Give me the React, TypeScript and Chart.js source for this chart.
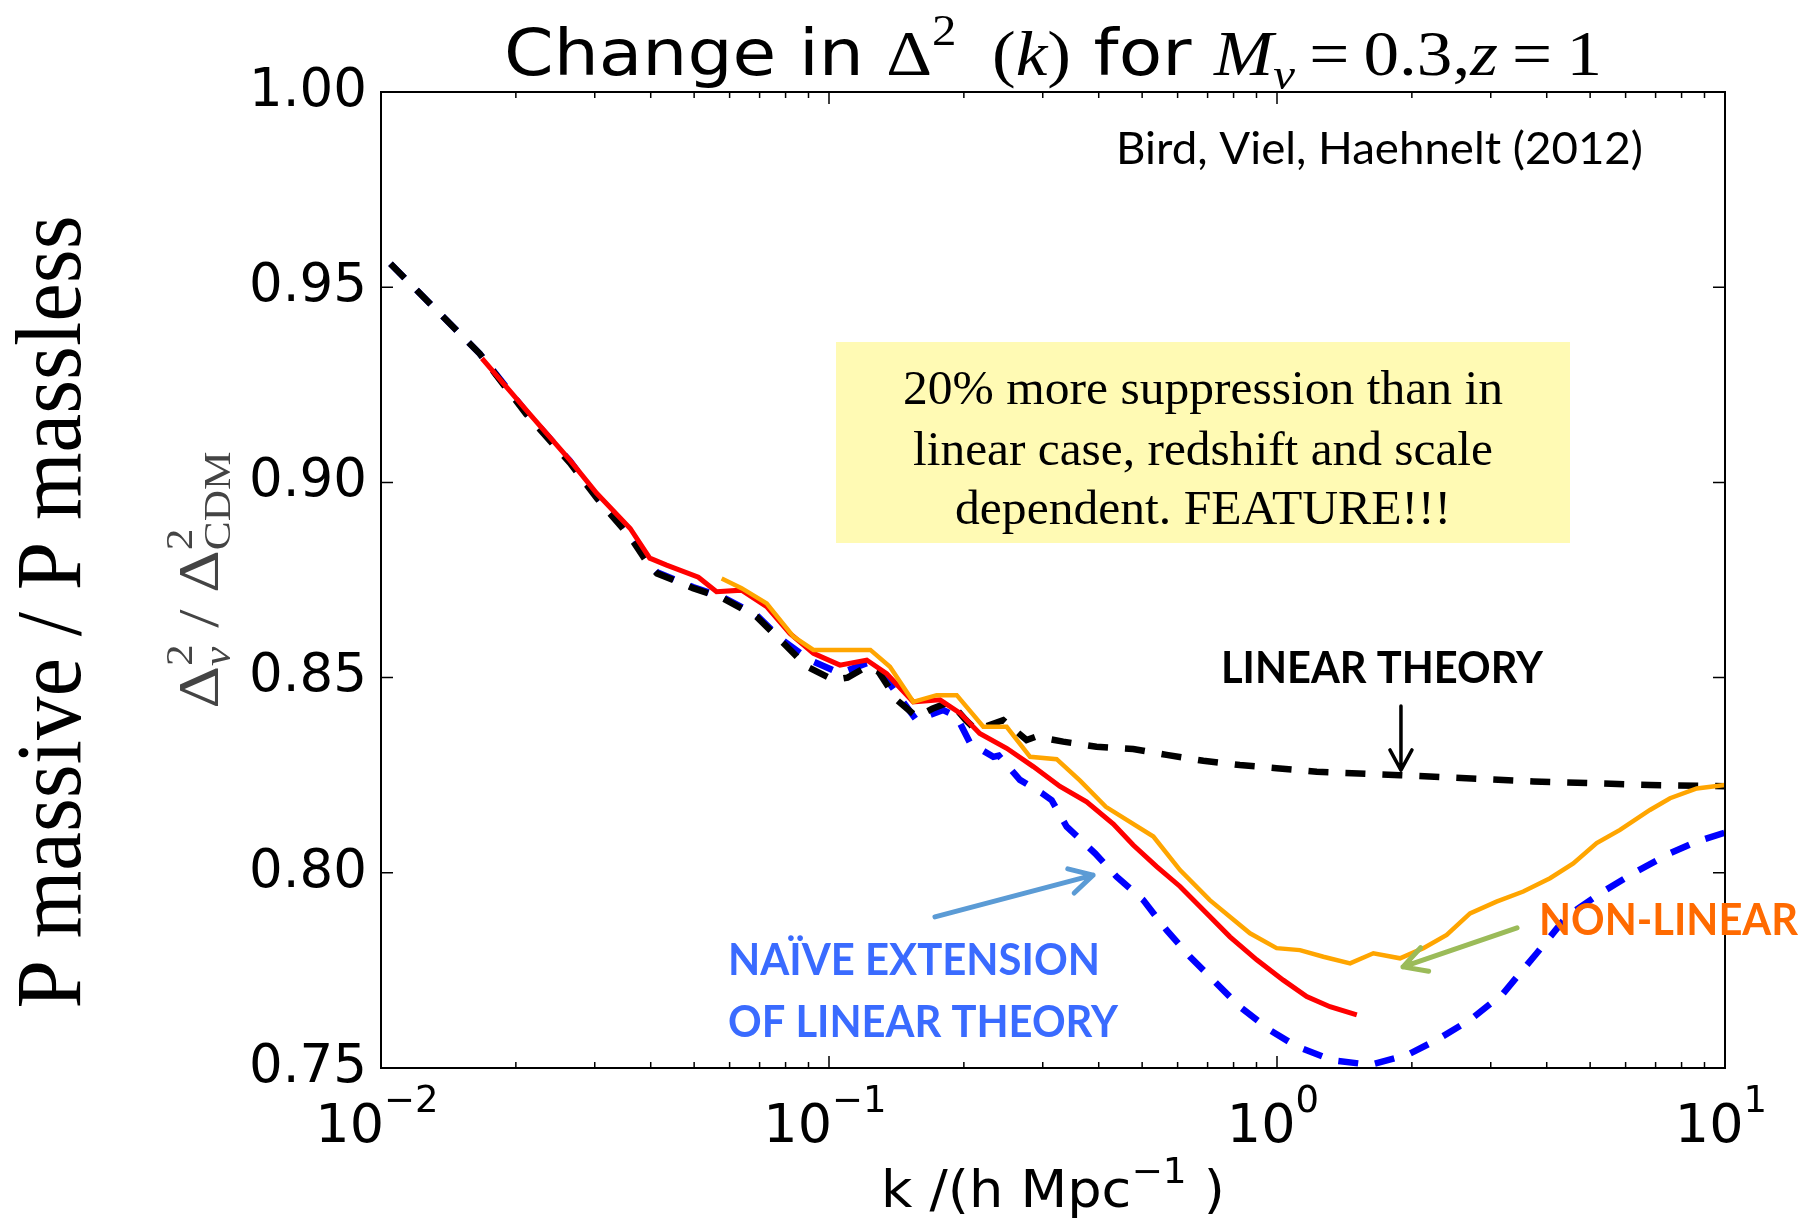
import React, { useEffect, useRef } from "react";
import { Chart, registerables } from "chart.js";

Chart.register(...registerables);

// ---------- data (k in h/Mpc, ratio Δ²ν / Δ²CDM) ----------
const linearK = [0.0105, 0.0166, 0.0211, 0.0264, 0.0303, 0.036, 0.0398, 0.0413, 0.0497, 0.058, 0.0689, 0.0779, 0.0893, 0.1023, 0.11, 0.1214, 0.129, 0.1416, 0.1567, 0.17, 0.1862, 0.2021, 0.2127, 0.23, 0.2448, 0.2761, 0.29, 0.3332, 0.3955, 0.4775, 0.567, 0.6847, 0.826, 0.998, 1.227, 1.882, 3.733, 6.8, 10.0];
const linearRatio = [0.956, 0.933, 0.9175, 0.905, 0.896, 0.886, 0.8785, 0.8767, 0.8729, 0.8703, 0.8656, 0.8596, 0.8528, 0.8494, 0.85, 0.8528, 0.8515, 0.8443, 0.84, 0.842, 0.8438, 0.8391, 0.8366, 0.838, 0.8391, 0.834, 0.8349, 0.8336, 0.8323, 0.8317, 0.8302, 0.8287, 0.8276, 0.8268, 0.8259, 0.825, 0.8234, 0.8225, 0.8222];

const naiveK = [0.0105, 0.0166, 0.0211, 0.0264, 0.0303, 0.036, 0.0398, 0.0413, 0.0497, 0.058, 0.0689, 0.0779, 0.0906, 0.1058, 0.1214, 0.1345, 0.1567, 0.1799, 0.1928, 0.2066, 0.2327, 0.2393, 0.2668, 0.2986, 0.314, 0.3393, 0.3925, 0.4385, 0.503, 0.567, 0.6394, 0.7208, 0.826, 0.9647, 1.107, 1.331, 1.613, 1.948, 2.273, 2.697, 3.198, 3.8, 4.432, 5.26, 6.244, 7.54, 8.65, 10.0];
const naiveRatio = [0.956, 0.933, 0.918, 0.9055, 0.8965, 0.8872, 0.879, 0.877, 0.8732, 0.8706, 0.866, 0.86, 0.8545, 0.8511, 0.8537, 0.8495, 0.8391, 0.8417, 0.84, 0.8332, 0.8297, 0.83, 0.8238, 0.8204, 0.8186, 0.8118, 0.805, 0.799, 0.793, 0.7853, 0.7785, 0.7725, 0.7657, 0.7597, 0.7555, 0.752, 0.7508, 0.7533, 0.7572, 0.7623, 0.7691, 0.7794, 0.7888, 0.7947, 0.7999, 0.805, 0.808, 0.8103];

const simK = [0.0168, 0.0211, 0.0264, 0.0303, 0.036, 0.0398, 0.0434, 0.0511, 0.0561, 0.0638, 0.0726, 0.0818, 0.0923, 0.1058, 0.1214, 0.1345, 0.1542, 0.1769, 0.1961, 0.217, 0.2492, 0.2858, 0.3279, 0.3759, 0.4313, 0.4775, 0.5389, 0.6075, 0.708, 0.7853, 0.901, 1.0328, 1.165, 1.313, 1.507];
const simRatio = [0.9318, 0.9185, 0.9057, 0.8972, 0.8882, 0.8806, 0.8788, 0.8757, 0.872, 0.8724, 0.8682, 0.8613, 0.8562, 0.8532, 0.8545, 0.851, 0.8438, 0.8443, 0.8409, 0.8357, 0.8319, 0.8272, 0.8221, 0.8182, 0.8125, 0.8071, 0.8016, 0.7965, 0.7888, 0.7836, 0.7777, 0.7725, 0.7683, 0.7657, 0.7636];

const fitK = [0.0576, 0.0638, 0.0726, 0.0833, 0.0923, 0.1237, 0.1368, 0.1542, 0.1739, 0.1928, 0.221, 0.2492, 0.2811, 0.3222, 0.3634, 0.4149, 0.5297, 0.6075, 0.708, 0.8703, 0.998, 1.125, 1.269, 1.456, 1.641, 1.882, 2.122, 2.392, 2.697, 3.09, 3.546, 4.069, 4.585, 5.171, 5.83, 6.8, 7.54, 8.65, 10.0];
const fitRatio = [0.8754, 0.8729, 0.869, 0.8605, 0.8571, 0.8571, 0.8528, 0.8438, 0.8455, 0.8455, 0.8374, 0.8374, 0.8297, 0.8291, 0.8236, 0.8169, 0.8093, 0.8007, 0.793, 0.7845, 0.7807, 0.7802, 0.7785, 0.7768, 0.7794, 0.7781, 0.7807, 0.7841, 0.7896, 0.7926, 0.7952, 0.7986, 0.8024, 0.8076, 0.811, 0.8161, 0.8191, 0.8216, 0.8225];

// ---------- axes ----------
const xTickValues = [0.01, 0.1, 1, 10];
const xTickBase = "10";
const xTickExponents = ["\u22122", "\u22121", "0", "1"];
const yMin = 0.75;
const yMax = 1.0;
const yStep = 0.05;

// ---------- annotations (arrow ends in data coordinates: [k, ratio]) ----------
const linearArrow = [[1.891, 0.8427], [1.891, 0.8263]];
const naiveArrow = [[0.1724, 0.7887], [0.3885, 0.7994]];
const nonlinearArrow = [[3.434, 0.7859], [1.911, 0.7759]];
const creditText = "Bird, Viel, Haehnelt (2012)";
const boxLines = ["20% more suppression than in", "linear case, redshift and scale", "dependent. FEATURE!!!"];
const linearLabel = "LINEAR THEORY";
const naiveLabel = ["NA\u00CFVE EXTENSION", "OF LINEAR THEORY"];
const nonlinearLabel = "NON-LINEAR";
const outerYLabel = "P massive / P massless";

type Run = { t: string; font: string; dy?: number; stack?: boolean };

function drawRuns(
  ctx: CanvasRenderingContext2D,
  runs: Run[],
  x: number,
  y: number,
  opts: { align: "left" | "center"; width?: number; rotate?: number; color: string }
) {
  ctx.save();
  ctx.translate(x, y);
  if (opts.rotate) ctx.rotate(opts.rotate);
  const widths = runs.map((r) => {
    ctx.font = r.font;
    return ctx.measureText(r.t).width;
  });
  let cx = 0;
  let prevStart = 0;
  let prevW = 0;
  const pos: number[] = [];
  runs.forEach((r, i) => {
    if (r.stack) {
      pos.push(prevStart);
      cx = prevStart + Math.max(prevW, widths[i]);
    } else {
      pos.push(cx);
      prevStart = cx;
      prevW = widths[i];
      cx += widths[i];
    }
  });
  const total = cx;
  const sx = opts.width ? opts.width / total : 1;
  ctx.scale(sx, 1);
  const start = opts.align === "center" ? -total / 2 : 0;
  ctx.fillStyle = opts.color;
  ctx.textBaseline = "alphabetic";
  ctx.textAlign = "left";
  runs.forEach((r, i) => {
    ctx.font = r.font;
    ctx.fillText(r.t, start + pos[i], r.dy || 0);
  });
  ctx.restore();
}

function drawArrow(
  ctx: CanvasRenderingContext2D,
  x1: number,
  y1: number,
  x2: number,
  y2: number,
  color: string,
  width: number,
  headLen: number,
  headAngle: number
) {
  ctx.save();
  ctx.strokeStyle = color;
  ctx.lineWidth = width;
  ctx.lineCap = "round";
  ctx.lineJoin = "round";
  ctx.beginPath();
  ctx.moveTo(x1, y1);
  ctx.lineTo(x2, y2);
  const a = Math.atan2(y1 - y2, x1 - x2);
  ctx.moveTo(x2 + headLen * Math.cos(a + headAngle), y2 + headLen * Math.sin(a + headAngle));
  ctx.lineTo(x2, y2);
  ctx.lineTo(x2 + headLen * Math.cos(a - headAngle), y2 + headLen * Math.sin(a - headAngle));
  ctx.stroke();
  ctx.restore();
}

const SANS = "'DejaVu Sans', sans-serif";
const SERIF = "'Liberation Serif', serif";
const CALI = "Lato, 'Open Sans', sans-serif";

const decorPlugin = {
  id: "decor",
  beforeDatasetsDraw(chart: any) {
    const ctx: CanvasRenderingContext2D = chart.ctx;
    // yellow note box (behind curves)
    ctx.save();
    ctx.fillStyle = "#fffab4";
    ctx.fillRect(836, 342, 734, 201);
    ctx.restore();
  },
  afterDatasetsDraw(chart: any) {
    const ctx: CanvasRenderingContext2D = chart.ctx;
    const { left, right, top, bottom } = chart.chartArea;
    const xs = chart.scales.x;
    const ys = chart.scales.y;

    // frame
    ctx.save();
    ctx.strokeStyle = "#000";
    ctx.lineWidth = 2;
    ctx.strokeRect(left, top, right - left, bottom - top);

    // x ticks (major + minor), inward on bottom and top
    ctx.lineWidth = 1.5;
    ctx.beginPath();
    xTickValues.forEach((v) => {
      const px = xs.getPixelForValue(v);
      ctx.moveTo(px, bottom);
      ctx.lineTo(px, bottom - 12);
      ctx.moveTo(px, top);
      ctx.lineTo(px, top + 12);
    });
    for (let i = 0; i < xTickValues.length - 1; i++) {
      for (let m = 2; m <= 9; m++) {
        const px = xs.getPixelForValue(m * xTickValues[i]);
        ctx.moveTo(px, bottom);
        ctx.lineTo(px, bottom - 6);
        ctx.moveTo(px, top);
        ctx.lineTo(px, top + 6);
      }
    }
    // y ticks, inward on left and right
    ys.ticks.forEach((t: any) => {
      const py = ys.getPixelForValue(t.value);
      ctx.moveTo(left, py);
      ctx.lineTo(left + 12, py);
      ctx.moveTo(right, py);
      ctx.lineTo(right - 12, py);
    });
    ctx.stroke();
    ctx.restore();

    // x tick labels 10^n
    xTickValues.forEach((v, i) => {
      const px = xs.getPixelForValue(v);
      drawRuns(
        ctx,
        [
          { t: xTickBase, font: `54px ${SANS}` },
          { t: xTickExponents[i], font: `37px ${SANS}`, dy: -30 },
        ],
        px - 4,
        bottom + 74,
        { align: "center", color: "#000" }
      );
    });

    // x axis title
    drawRuns(
      ctx,
      [
        { t: "k /(h Mpc", font: `52px ${SANS}` },
        { t: "\u22121", font: `36px ${SANS}`, dy: -24 },
        { t: " )", font: `52px ${SANS}` },
      ],
      (left + right) / 2,
      bottom + 139,
      { align: "center", width: 344, color: "#000" }
    );

    // title
    drawRuns(
      ctx,
      [
        { t: "Change in ", font: `64px ${SANS}` },
        { t: "\u0394", font: `64px ${SERIF}` },
        { t: "2", font: `44px ${SERIF}`, dy: -30 },
        { t: "  (", font: `64px ${SERIF}` },
        { t: "k", font: `italic 64px ${SERIF}` },
        { t: ")", font: `64px ${SERIF}` },
        { t: " for ", font: `64px ${SANS}` },
        { t: "M", font: `italic 64px ${SERIF}` },
        { t: "\u03BD", font: `italic 44px ${SERIF}`, dy: 14 },
        { t: "\u2009=\u20090.3,", font: `64px ${SERIF}` },
        { t: "z", font: `italic 64px ${SERIF}` },
        { t: "\u2009=\u20091", font: `64px ${SERIF}` },
      ],
      (left + right) / 2,
      75,
      { align: "center", width: 1098, color: "#000" }
    );

    // inner y label Δ²ν / Δ²CDM
    drawRuns(
      ctx,
      [
        { t: "\u0394", font: `58px ${SERIF}` },
        { t: "2", font: `38px ${SERIF}`, dy: -26 },
        { t: "\u03BD", font: `italic 38px ${SERIF}`, dy: 12, stack: true },
        { t: " / ", font: `58px ${SERIF}` },
        { t: "\u0394", font: `58px ${SERIF}` },
        { t: "2", font: `38px ${SERIF}`, dy: -26 },
        { t: "CDM", font: `38px ${SERIF}`, dy: 12, stack: true },
      ],
      218,
      (top + bottom) / 2,
      { align: "center", width: 257, rotate: -Math.PI / 2, color: "#444" }
    );

    // outer y label
    drawRuns(ctx, [{ t: outerYLabel, font: `94px ${SERIF}` }], 80, 612, {
      align: "center",
      width: 793,
      rotate: -Math.PI / 2,
      color: "#000",
    });

    // credit
    drawRuns(ctx, [{ t: creditText, font: `44px ${CALI}` }], 1116, 164, {
      align: "left",
      width: 527,
      color: "#000",
    });

    // box text
    const boxBase = [404, 465, 524];
    const boxW = [600, 580, 496];
    boxLines.forEach((line, i) => {
      drawRuns(ctx, [{ t: line, font: `48px ${SERIF}` }], 1203, boxBase[i], {
        align: "center",
        width: boxW[i],
        color: "#000",
      });
    });

    // labels
    drawRuns(ctx, [{ t: linearLabel, font: `bold 43px ${CALI}` }], 1221, 683, {
      align: "left",
      width: 322,
      color: "#000",
    });
    drawRuns(ctx, [{ t: naiveLabel[0], font: `bold 43px ${CALI}` }], 728, 975, {
      align: "left",
      width: 372,
      color: "#3a6bff",
    });
    drawRuns(ctx, [{ t: naiveLabel[1], font: `bold 43px ${CALI}` }], 728, 1037, {
      align: "left",
      width: 390,
      color: "#3a6bff",
    });
    drawRuns(ctx, [{ t: nonlinearLabel, font: `bold 43px ${CALI}` }], 1539, 935, {
      align: "left",
      width: 259,
      color: "#ff6a00",
    });

    // arrows
    const P = (p: number[]) => [xs.getPixelForValue(p[0]), ys.getPixelForValue(p[1])];
    const [la, lb] = [P(linearArrow[0]), P(linearArrow[1])];
    drawArrow(ctx, la[0], la[1], lb[0], lb[1], "#000", 3.5, 23, 0.5);
    const [na, nb] = [P(naiveArrow[0]), P(naiveArrow[1])];
    drawArrow(ctx, na[0], na[1], nb[0], nb[1], "#5b9bd5", 5, 26, 0.5);
    const [ga, gb] = [P(nonlinearArrow[0]), P(nonlinearArrow[1])];
    drawArrow(ctx, ga[0], ga[1], gb[0], gb[1], "#9bbb59", 5, 26, 0.5);
  },
};

const toPoints = (ks: number[], vs: number[]) => ks.map((k, i) => ({ x: k, y: vs[i] }));

export default function App() {
  const ref = useRef<HTMLCanvasElement | null>(null);
  useEffect(() => {
    if (!ref.current) return;
    const chart = new Chart(ref.current, {
      type: "line",
      data: {
        datasets: [
          {
            label: "Non-linear (fit)",
            data: toPoints(fitK, fitRatio),
            borderColor: "#ffa500",
            borderWidth: 4.5,
            pointRadius: 0,
            tension: 0,
            fill: false,
            order: 0,
          },
          {
            label: "Non-linear (simulation)",
            data: toPoints(simK, simRatio),
            borderColor: "#ff0000",
            borderWidth: 5,
            pointRadius: 0,
            tension: 0,
            fill: false,
            order: 1,
          },
          {
            label: "Linear theory",
            data: toPoints(linearK, linearRatio),
            borderColor: "#000000",
            borderWidth: 6.5,
            borderDash: [20, 17],
            borderCapStyle: "butt",
            pointRadius: 0,
            tension: 0,
            fill: false,
            order: 2,
          },
          {
            label: "Naive extension of linear theory",
            data: toPoints(naiveK, naiveRatio),
            borderColor: "#0000ff",
            borderWidth: 6.5,
            borderDash: [20, 17],
            borderCapStyle: "butt",
            pointRadius: 0,
            tension: 0,
            fill: false,
            order: 3,
          },
        ],
      },
      options: {
        responsive: false,
        animation: false,
        devicePixelRatio: 1,
        layout: { padding: { left: 0, top: 92, right: 89, bottom: 0 } },
        plugins: {
          legend: { display: false },
          tooltip: { enabled: false },
          title: { display: false },
        },
        scales: {
          x: {
            type: "logarithmic",
            min: xTickValues[0],
            max: xTickValues[xTickValues.length - 1],
            grid: { display: false, drawTicks: false },
            border: { display: false },
            ticks: { display: false },
            afterFit: (s: any) => {
              s.height = 155;
            },
          },
          y: {
            type: "linear",
            min: yMin,
            max: yMax,
            grid: { display: false, drawTicks: false },
            border: { display: false },
            ticks: {
              stepSize: yStep,
              color: "#000",
              padding: 14,
              font: { family: SANS, size: 53 },
              callback: (v: any) => Number(v).toFixed(2),
            },
            afterFit: (s: any) => {
              s.width = 381;
            },
          },
        },
      } as any,
      plugins: [decorPlugin],
    });
    return () => chart.destroy();
  }, []);
  return (
    <div style={{ position: "absolute", left: 0, top: 0, width: 1814, height: 1223, background: "#fff" }}>
      <canvas ref={ref} width={1814} height={1223} style={{ display: "block" }} />
    </div>
  );
}
